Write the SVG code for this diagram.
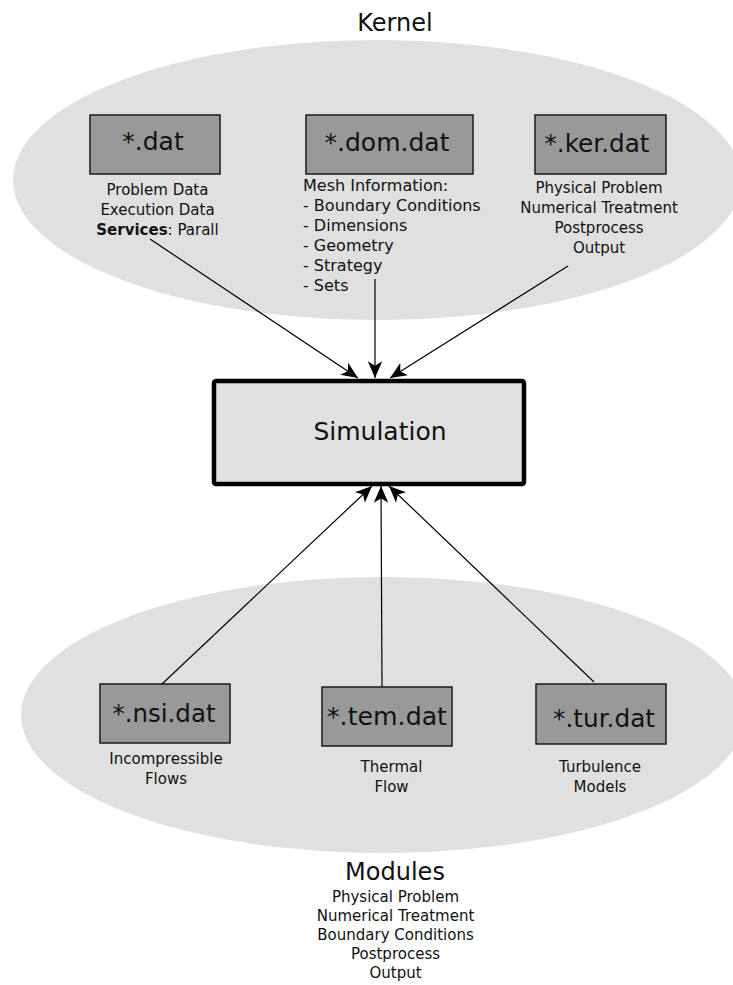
<svg xmlns="http://www.w3.org/2000/svg" width="733" height="985" viewBox="0 0 733 985">
  <style>
    text { font-family: "DejaVu Sans", "Liberation Sans", sans-serif; fill: #111; }
    .title { font-size: 24px; text-anchor: middle; }
    .file { font-size: 25px; text-anchor: middle; }
    .note { font-size: 15px; text-anchor: middle; }
    .list { font-size: 16px; }
    .zone { fill: #e0e0e0; stroke: none; }
    .file-box { fill: #999999; stroke: #1a1a1a; stroke-width: 1.5; }
    .core-box { fill: #e0e0e0; stroke: #000; stroke-width: 4.5; }
    .link { stroke: #000; stroke-width: 1.2; fill: none; marker-end: url(#head); }
  </style>
  <defs>
    <marker id="head" markerUnits="userSpaceOnUse" markerWidth="20" markerHeight="20" viewBox="-16 -8 18 16" refX="0" refY="0" orient="auto">
      <path d="M0,0 L-15,-6.5 L-11,0 L-15,6.5 Z" fill="#000"/>
    </marker>
  </defs>

  <!-- background zones -->
  <g id="kernel-zone">
    <ellipse class="zone" cx="377" cy="180" rx="364" ry="140"/>
    <text class="title" x="395" y="31">Kernel</text>
  </g>
  <g id="modules-zone">
    <ellipse class="zone" cx="383" cy="715" rx="362" ry="138"/>
    <text class="title" x="395" y="880">Modules</text>
    <text class="note" x="395.5" y="902">Physical Problem</text>
    <text class="note" x="395.5" y="921">Numerical Treatment</text>
    <text class="note" x="395.5" y="940">Boundary Conditions</text>
    <text class="note" x="395.5" y="959">Postprocess</text>
    <text class="note" x="395.5" y="978">Output</text>
  </g>

  <!-- kernel input files -->
  <g id="dat">
    <rect class="file-box" x="90" y="115" width="130" height="59"/>
    <text class="file" x="153" y="150">*.dat</text>
    <text class="note" x="157.5" y="195">Problem Data</text>
    <text class="note" x="157.5" y="215">Execution Data</text>
    <text class="note" x="157.5" y="235"><tspan font-weight="bold">Services</tspan>: Parall</text>
  </g>
  <g id="dom-dat">
    <rect class="file-box" x="306" y="115" width="167" height="59"/>
    <text class="file" x="387" y="151">*.dom.dat</text>
    <text class="list" x="303" y="191">Mesh Information:</text>
    <text class="list" x="303" y="211">- Boundary Conditions</text>
    <text class="list" x="303" y="231">- Dimensions</text>
    <text class="list" x="303" y="251">- Geometry</text>
    <text class="list" x="303" y="271">- Strategy</text>
    <text class="list" x="303" y="291">- Sets</text>
  </g>
  <g id="ker-dat">
    <rect class="file-box" x="535" y="115" width="131" height="59"/>
    <text class="file" x="597" y="152" textLength="105" lengthAdjust="spacingAndGlyphs">*.ker.dat</text>
    <text class="note" x="599" y="193">Physical Problem</text>
    <text class="note" x="599" y="213">Numerical Treatment</text>
    <text class="note" x="599" y="233">Postprocess</text>
    <text class="note" x="599" y="253">Output</text>
  </g>

  <!-- central node -->
  <g id="simulation">
    <rect class="core-box" x="214" y="381" width="310" height="103" rx="2"/>
    <text class="file" x="380" y="440" font-size="24.5">Simulation</text>
  </g>

  <!-- module input files -->
  <g id="nsi-dat">
    <rect class="file-box" x="100" y="684" width="130" height="59"/>
    <text class="file" x="164" y="722" textLength="103" lengthAdjust="spacingAndGlyphs">*.nsi.dat</text>
    <text class="note" x="166" y="764">Incompressible</text>
    <text class="note" x="166" y="784">Flows</text>
  </g>
  <g id="tem-dat">
    <rect class="file-box" x="322" y="687" width="130" height="59"/>
    <text class="file" x="387" y="725" textLength="120" lengthAdjust="spacingAndGlyphs">*.tem.dat</text>
    <text class="note" x="391.5" y="772">Thermal</text>
    <text class="note" x="391.5" y="792">Flow</text>
  </g>
  <g id="tur-dat">
    <rect class="file-box" x="536" y="684" width="130" height="60"/>
    <text class="file" x="604" y="727" textLength="102" lengthAdjust="spacingAndGlyphs">*.tur.dat</text>
    <text class="note" x="600" y="772">Turbulence</text>
    <text class="note" x="600" y="792">Models</text>
  </g>

  <!-- connectors -->
  <g id="connectors">
    <line class="link" x1="150" y1="239" x2="358" y2="378"/>
    <line class="link" x1="375" y1="279" x2="375" y2="378"/>
    <line class="link" x1="568" y1="266" x2="390" y2="378"/>
    <line class="link" x1="162" y1="684" x2="372" y2="486"/>
    <line class="link" x1="382" y1="687" x2="381" y2="486"/>
    <line class="link" x1="594" y1="682" x2="389" y2="486"/>
  </g>
</svg>
